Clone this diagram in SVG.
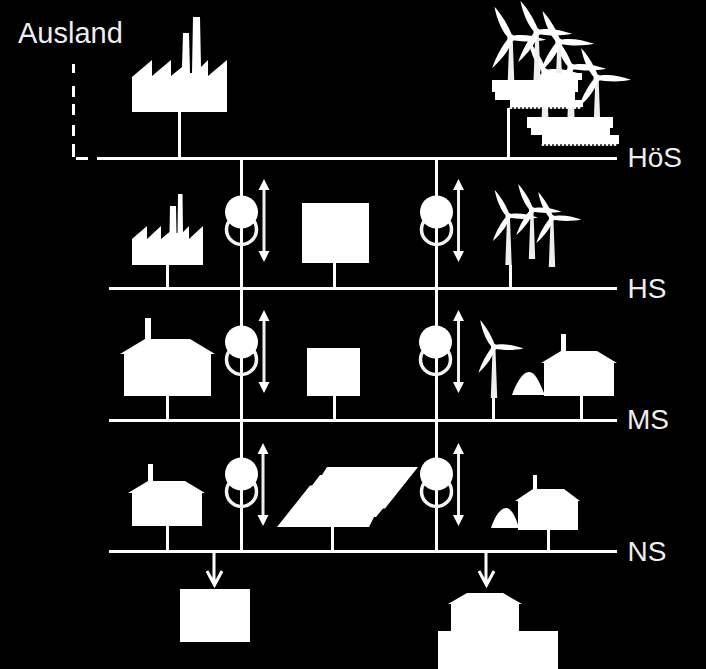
<svg xmlns="http://www.w3.org/2000/svg" xmlns:xlink="http://www.w3.org/1999/xlink" width="706" height="669" viewBox="0 0 706 669">
<style>
.l{stroke:#fff;stroke-width:3;fill:none}
.f{fill:#fff}
.a{stroke:#eee;stroke-width:3;fill:none}
.o{fill:none;stroke:#f4f4f4;stroke-width:3.500}
text{font-family:"Liberation Sans",Arial,sans-serif;font-size:28px;fill:#eee}
</style>
<defs>
<path id="blade" d="M0,-1.500C7,-4.200 19,-3.200 29.500,0C20,2.600 8,2.800 0,1.500Z" fill="#fff"/>
<g id="turbine">
<path d="M-3.200,49L-1.400,0L1.400,0L3.200,49Z" fill="#eee"/>
<use xlink:href="#blade" href="#blade" transform="rotate(3)"/>
<use xlink:href="#blade" href="#blade" transform="rotate(122)"/>
<use xlink:href="#blade" href="#blade" transform="rotate(242)"/>
<circle r="3" fill="#fff"/>
</g>
<g id="xfmr">
<circle cx="0" cy="17.500" r="15" class="o"/>
<circle r="16.500" class="f"/>
</g>
<g id="updown">
<path d="M0,8V75" class="a"/>
<path d="M0,0L5.500,11H-5.500Z M0,83L-5.500,72H5.500Z" fill="#fff"/>
</g>
</defs>
<rect width="706" height="669" fill="#000"/>
<g id="connectors">
<path class="l" d="M97,158.500H617M109,288.500H617M109,420.500H617M109,551.500H617"/>
<path class="l" d="M241.500,158V551M436.500,158V551"/>
<path class="l" d="M179.500,112V158M508.500,108V158M167.500,265V288M334.500,263V288M510.500,265V288M167.500,396V420M334.500,396V420M493.500,398V420M581.500,396V420M167.500,526V551M332.500,527V551M548.500,530V551"/>
<path class="l" d="M73.500,64V73M73.500,86V97M73.500,104V115M73.500,125V136M73.500,144V157M76,158.500H88"/>
<path class="l" d="M214,551V584M207,571L214.500,585L222,571M486,551V584M479,571L486.500,585L494,571"/>
</g>
<g id="label-ausland"><text x="18" y="43" style="font-size:29px">Ausland</text></g>
<g id="label-hoes"><text x="627.500" y="167">HöS</text></g>
<g id="label-hs"><text x="627.500" y="298">HS</text></g>
<g id="label-ms"><text x="627" y="429">MS</text></g>
<g id="label-ns"><text x="627.500" y="561">NS</text></g>
<g id="factory-large"><path class="f" d="M132,77L152,60V76L171,60V76L182,67L183,33H189L190,73H192L193,17H200L201,67L208,60V76L227,60V112H132Z"/></g>
<g id="offshore-wind">
<use xlink:href="#turbine" href="#turbine" transform="translate(545,72) scale(1.2)"/>
<use xlink:href="#turbine" href="#turbine" transform="translate(571,67) scale(1.2)"/>
<use xlink:href="#turbine" href="#turbine" transform="translate(597,78) scale(1.15)"/>
<use xlink:href="#turbine" href="#turbine" transform="translate(511,38) scale(1.2)"/>
<use xlink:href="#turbine" href="#turbine" transform="translate(537,32) scale(1.2)"/>
<use xlink:href="#turbine" href="#turbine" transform="translate(559,42) scale(1.2)"/>
<path class="f" d="M542,73H582V80H542Z"/>
<path class="f" d="M492,80H578V92H575V100H583V107H510V100H495V92H492Z"/>
<path d="M511,107.500H583" stroke="#fff" stroke-width="3" stroke-linecap="round" stroke-dasharray="0 4"/>
<path class="f" d="M527,117H613V128H610V135H619V144H542V135H531V128H527Z"/>
<path d="M543,144.500H619" stroke="#fff" stroke-width="3" stroke-linecap="round" stroke-dasharray="0 4"/>
</g>
<g id="transformer-1"><use xlink:href="#xfmr" href="#xfmr" x="241.500" y="212"/><use xlink:href="#updown" href="#updown" x="264" y="179"/></g>
<g id="transformer-2"><use xlink:href="#xfmr" href="#xfmr" x="436.500" y="212"/><use xlink:href="#updown" href="#updown" x="458.500" y="179"/></g>
<g id="transformer-3"><use xlink:href="#xfmr" href="#xfmr" x="241.500" y="342"/><use xlink:href="#updown" href="#updown" x="264" y="310"/></g>
<g id="transformer-4"><use xlink:href="#xfmr" href="#xfmr" x="435.500" y="342"/><use xlink:href="#updown" href="#updown" x="458.500" y="310"/></g>
<g id="transformer-5"><use xlink:href="#xfmr" href="#xfmr" x="241.500" y="474"/><use xlink:href="#updown" href="#updown" x="263" y="443"/></g>
<g id="transformer-6"><use xlink:href="#xfmr" href="#xfmr" x="436.500" y="474"/><use xlink:href="#updown" href="#updown" x="458.500" y="443"/></g>
<g id="factory-small"><path class="f" d="M132,239L147,226V239L161,226V239L169.500,232L170,206H176L176.500,233H177.500L178,194H182.500L183,232L189,226V239L203,226V265H132Z"/></g>
<g id="square-hs"><rect class="f" x="302" y="203" width="67" height="60"/></g>
<g id="wind-hs">
<use xlink:href="#turbine" href="#turbine" transform="translate(532,210)"/>
<use xlink:href="#turbine" href="#turbine" transform="translate(552,218)"/>
<use xlink:href="#turbine" href="#turbine" transform="translate(508.500,216)"/>
</g>
<g id="house-ms-left"><path class="f" d="M120,354L145,339V318H151V339H190L215,354H211V396H124V354Z"/></g>
<g id="square-ms"><rect class="f" x="307" y="348" width="53" height="48"/></g>
<g id="wind-ms"><use xlink:href="#turbine" href="#turbine" transform="translate(494,347) scale(1,1.04)"/></g>
<g id="biogas-ms"><path class="f" d="M512,395C516,384 522,372 529,372C536,372 540,384 545,395Z"/></g>
<g id="house-ms-right"><path class="f" d="M541,363L561,351V334H566V351H597L617,363H614V396H544V363Z"/></g>
<g id="house-ns-left"><path class="f" d="M128,493L148,481V464H153V481H185L205,493H202V526H132V493Z"/></g>
<g id="solar-panel"><path class="f" d="M277,527L310,485.500H312L320,475H322L327,467H418L385,508.500H383L376,517H374L369,527Z"/></g>
<g id="biogas-ns"><path class="f" d="M491,528C494,518 500,508 506,508C512,508 516,518 519,528Z"/></g>
<g id="house-ns-right"><path class="f" d="M515,501L533,489V475H537V489H564L580,501H578V530H518V501Z"/></g>
<g id="consumer-box"><rect class="f" x="180" y="589" width="70" height="53"/></g>
<g id="consumer-building"><path class="f" d="M448,604L467,593H503L522,604H519V631H558V669H438V631H451V604Z"/></g>
</svg>
